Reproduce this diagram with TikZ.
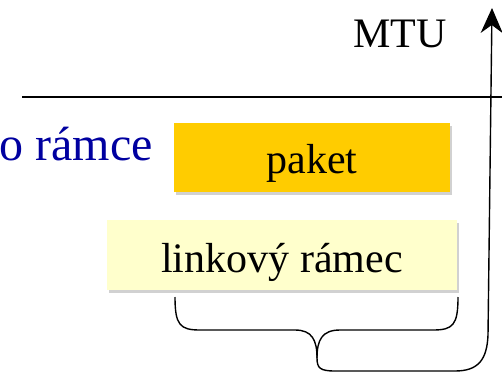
\documentclass[tikz,border=0pt]{standalone}
\usepackage{fontspec}
\setmainfont{Liberation Serif}
\usetikzlibrary{shadows,arrows.meta}
\definecolor{paketc}{HTML}{FFCC00}
\definecolor{ramecc}{HTML}{FFFFCC}
\definecolor{bluec}{RGB}{0,0,160}
\begin{document}
\begin{tikzpicture}[x=1pt,y=-1pt,
  lbl/.style={font=\fontsize{42}{48}\selectfont, inner sep=0, anchor=base},
  box/.style={draw=none, inner sep=0, drop shadow={shadow xshift=2pt, shadow yshift=-3pt, opacity=0.3, fill=black!60}},
  line/.style={line width=1.4pt}]
\useasboundingbox (0,0) rectangle (502,374);
% boxes
\node[box, fill=paketc, minimum width=276pt, minimum height=69pt] (paket) at (312,157.5) {};
\node[lbl] (paketlbl) at (312,173) {paket};
\node[box, fill=ramecc, minimum width=350pt, minimum height=70pt] (ramec) at (282,255) {};
\node[lbl] (rameclbl) at (282,272) {linkový rámec};
% labels
\node[lbl] (mtu) at (400,48) {MTU};
\node[lbl, anchor=base east, text=bluec, font=\fontsize{48}{54}\selectfont] (ramce) at (153,160) {o rámce};
% horizontal line
\coordinate (hl) at (22,97);
\coordinate (hr) at (502,97);
\draw[line] (hl) -- (hr);
% brace
\coordinate (bl) at (175,297);
\coordinate (br) at (458,297);
\coordinate (btip) at (317,358);
\draw[line] (bl) .. controls (175,325) and (180,330) .. (200,330) -- (295,330) .. controls (312,330) and (317,340) .. (btip);
\draw[line] (br) .. controls (458,325) and (453,330) .. (433,330) -- (340,330) .. controls (322,330) and (317,340) .. (btip);
% connector to MTU arrow
\coordinate (top) at (492,8);
\draw[line, -{Stealth[length=25pt,width=22pt,inset=8pt]}] (btip) .. controls (317,368) and (320,371) .. (335,371) -- (455,371) .. controls (478,371) and (487,360) .. (488,335) -- (top);
\end{tikzpicture}
\end{document}
